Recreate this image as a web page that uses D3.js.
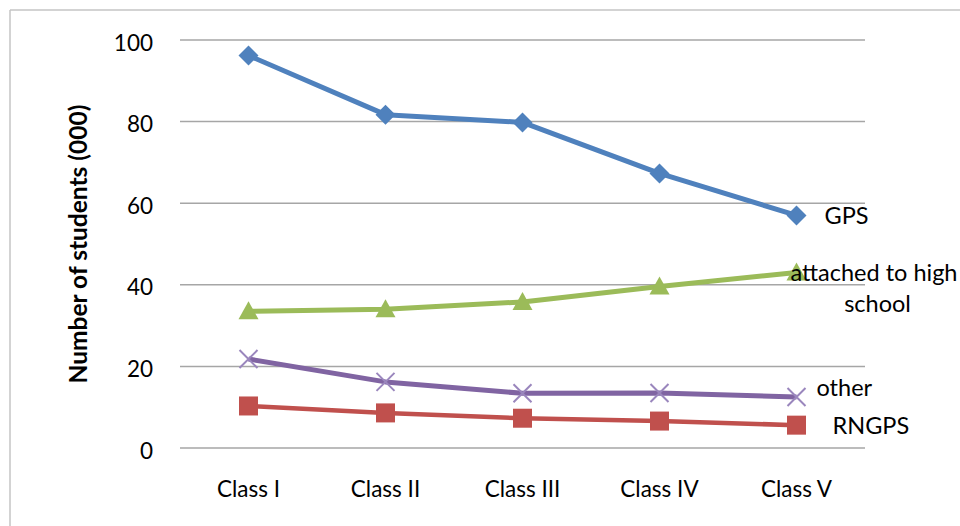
<!DOCTYPE html>
<html><head><meta charset="utf-8">
<script src="https://cdn.jsdelivr.net/npm/d3@7/dist/d3.min.js"></script>
<style>body{margin:0;background:#fff;} svg{display:block;}</style>
</head><body>
<svg id="c" width="960" height="526"></svg>
<script>
const categories = ["Class I","Class II","Class III","Class IV","Class V"];
const gps      = [96.2, 81.7, 79.8, 67.3, 57.0];
const attached = [33.5, 34.0, 35.8, 39.6, 43.0];
const other    = [21.8, 16.2, 13.4, 13.5, 12.5];
const rngps    = [10.3, 8.6, 7.3, 6.6, 5.6];
const yTicks   = [0, 20, 40, 60, 80, 100];
const seriesNames = ["GPS", "attached to high school", "other", "RNGPS"];

const series = [
  {name: seriesNames[0], values: gps, color: "#4F81BD", marker: "diamond", lw: 5},
  {name: seriesNames[1], values: attached, color: "#9BBB59", marker: "triangle", lw: 5},
  {name: seriesNames[2], values: other, color: "#8064A2", marker: "x", lw: 5},
  {name: seriesNames[3], values: rngps, color: "#C0504D", marker: "square", lw: 4.5}
];

const svg = d3.select("#c");
const font = "Lato, 'Open Sans', sans-serif";
const L = 180, R = 865, T = 40, B = 448;

// outer border (top & left)
svg.append("line").attr("x1",10).attr("y1",10).attr("x2",960).attr("y2",10).attr("stroke","#c4c4c4").attr("stroke-width",1.5);
svg.append("line").attr("x1",10).attr("y1",10).attr("x2",10).attr("y2",526).attr("stroke","#c4c4c4").attr("stroke-width",1.5);

const x = d3.scaleBand().domain(categories).range([L, R]);
const y = d3.scaleLinear().domain([0, 100]).range([B, T]);

// gridlines
svg.append("g").selectAll("line").data(yTicks).join("line")
  .attr("x1", L).attr("x2", R).attr("y1", d => y(d)).attr("y2", d => y(d))
  .attr("stroke", "#a6a6a6").attr("stroke-width", 1.5);

// y axis tick labels
const yAxis = d3.axisLeft(y).tickValues(yTicks).tickSize(0).tickPadding(0);
const ya = svg.append("g").attr("transform", `translate(153,0)`).call(yAxis);
ya.select(".domain").remove();
ya.selectAll("text").attr("font-family", font).attr("font-size", 22.5).attr("fill", "#000").attr("dy", "0.45em");

// x axis labels
const xAxis = d3.axisBottom(x).tickSize(0).tickPadding(0);
const xa = svg.append("g").attr("transform", `translate(0,481)`).call(xAxis);
xa.select(".domain").remove();
xa.selectAll("text").attr("font-family", font).attr("font-size", 22.5).attr("fill", "#000").attr("dy", "0.72em");

// y axis title
svg.append("text").attr("transform", "translate(87,244) rotate(-90)")
  .attr("text-anchor", "middle").attr("font-family", font).attr("font-weight", "bold")
  .attr("font-size", 24.5).attr("fill", "#000").text("Number of students (000)");

const cx = (i) => x(categories[i]) + x.bandwidth() / 2;
const line = d3.line().x((d, i) => cx(i)).y(d => y(d));

series.forEach(s => {
  const g = svg.append("g");
  g.append("path").datum(s.values).attr("d", line).attr("fill", "none")
    .attr("stroke", s.color).attr("stroke-width", s.lw).attr("stroke-linejoin", "round");
  const m = g.selectAll("g.m").data(s.values).join("g")
    .attr("transform", (d, i) => `translate(${cx(i)},${y(d)})`);
  if (s.marker === "diamond") {
    m.append("path").attr("d", "M0,-10L10,0L0,10L-10,0Z").attr("fill", s.color);
  } else if (s.marker === "square") {
    m.append("rect").attr("x", -9.5).attr("y", -9.5).attr("width", 19).attr("height", 19).attr("fill", s.color);
  } else if (s.marker === "triangle") {
    m.append("path").attr("d", "M0,-10L10,8L-10,8Z").attr("fill", s.color);
  } else if (s.marker === "x") {
    m.append("path").attr("d", "M-9,-9L9,9M-9,9L9,-9").attr("stroke", "#9a86bd").attr("stroke-width", 2).attr("fill", "none");
  }
});

// series labels at last point
const last = categories.length - 1;
const lab = (txt, dx, dyv, v, anchor) => svg.append("text")
  .attr("x", cx(last) + dx).attr("y", y(v) + dyv).attr("text-anchor", anchor || "start")
  .attr("font-family", font).attr("font-size", 23.5).attr("fill", "#000").text(txt);
lab("GPS", 28, 9, gps[last]);
lab("attached to high", -6, 8, attached[last]);
lab("school", 81, 39, attached[last], "middle");
lab("other", 20, -1, other[last]);
lab("RNGPS", 36, 9, rngps[last]);
</script>
</body></html>
